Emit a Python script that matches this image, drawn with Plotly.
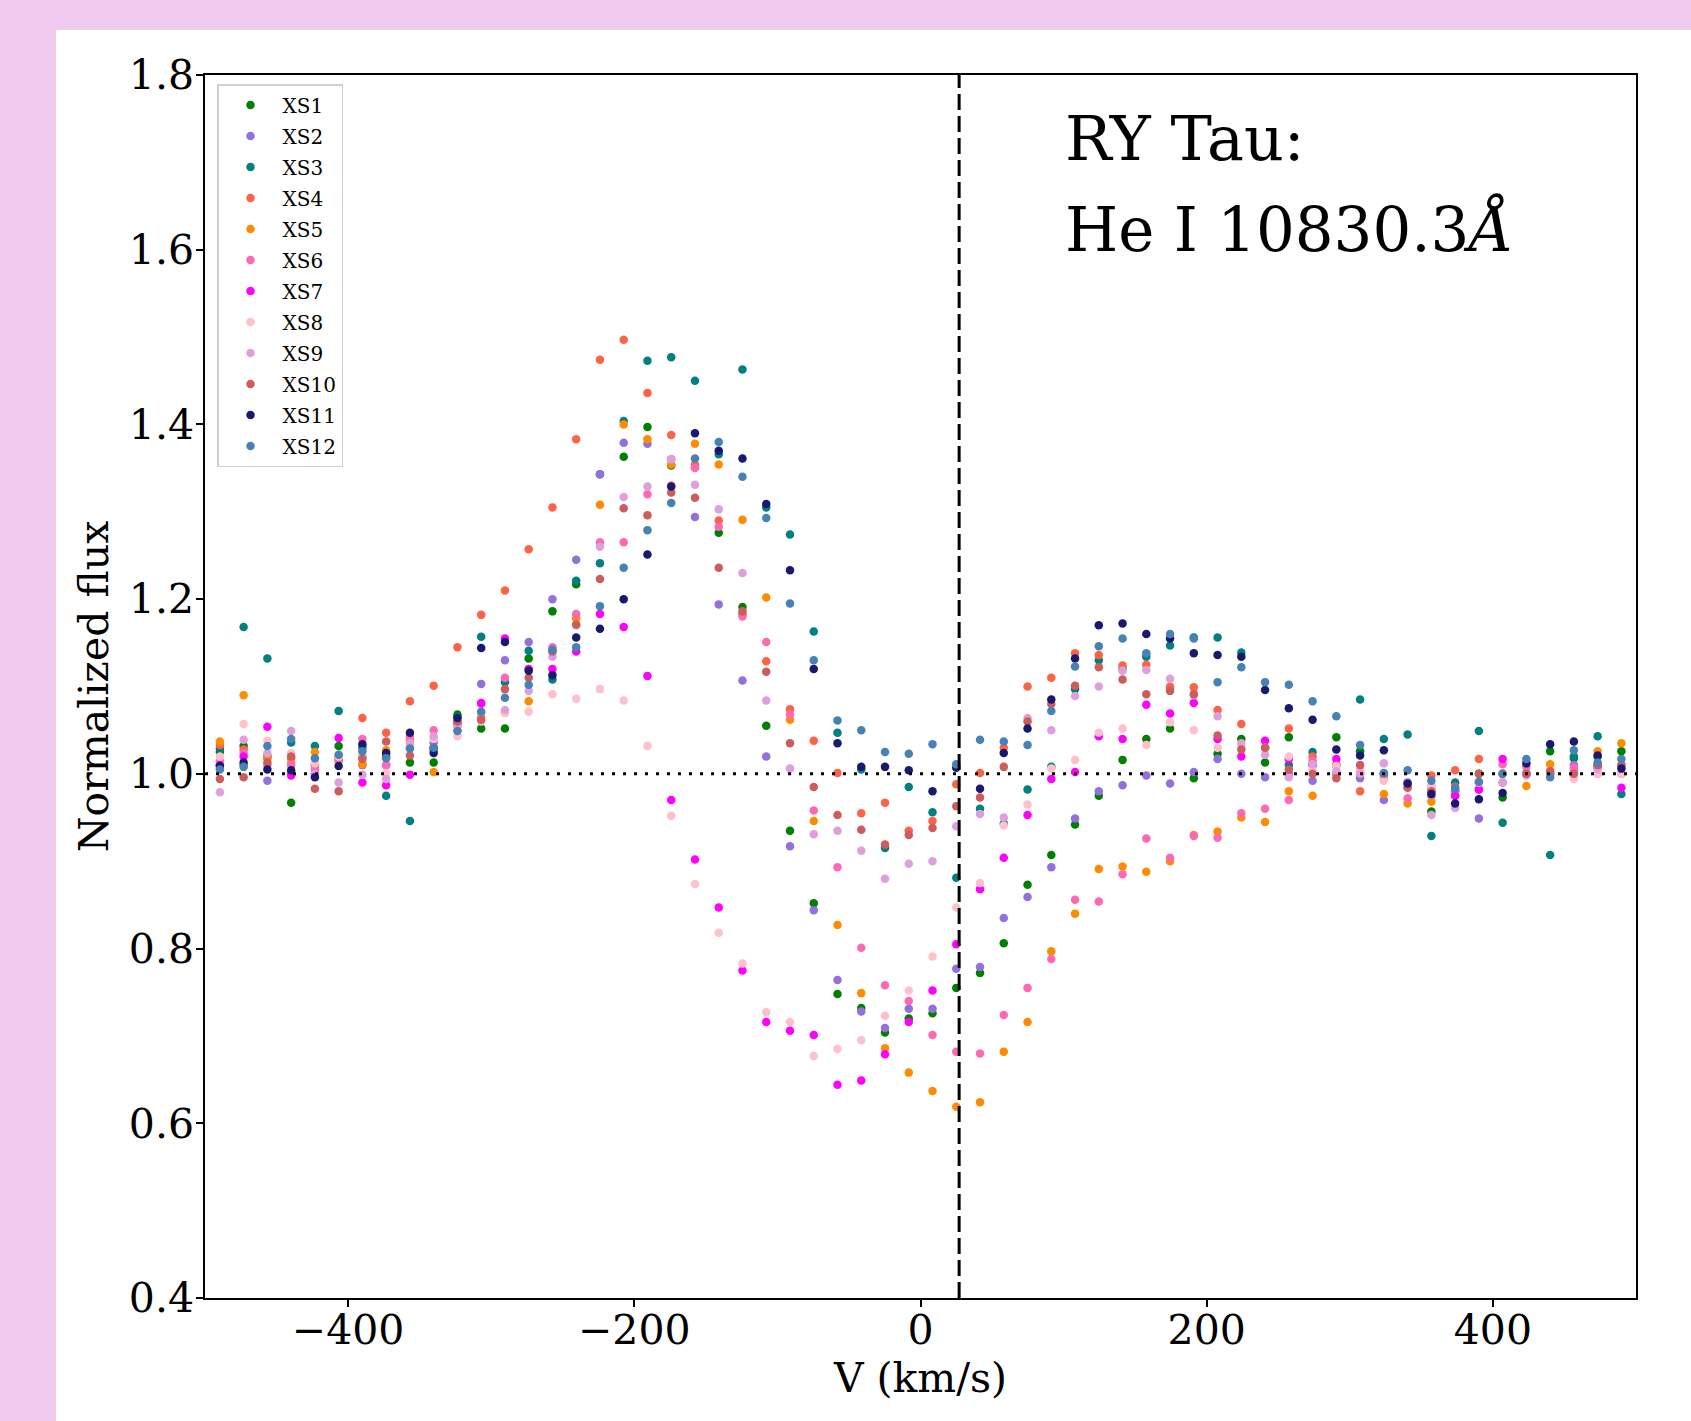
import plotly.graph_objects as go

# Velocity grid (km/s), shared by all series
velocity = [-489.6, -473.0, -456.4, -439.8, -423.2, -406.6, -390.0, -373.4, -356.8, -340.2,
            -323.6, -307.0, -290.4, -273.8, -257.2, -240.6, -224.0, -207.4, -190.8, -174.2,
            -157.6, -141.0, -124.4, -107.8, -91.2, -74.6, -58.0, -41.4, -24.8, -8.2,
            8.4, 25.0, 41.6, 58.2, 74.8, 91.4, 108.0, 124.6, 141.2, 157.8,
            174.4, 191.0, 207.6, 224.2, 240.8, 257.4, 274.0, 290.6, 307.2, 323.8,
            340.4, 357.0, 373.6, 390.2, 406.8, 423.4, 440.0, 456.6, 473.2, 489.8]

xs1 = [1.025, 1.032, 1.02, 0.967, 1.01, 1.032, 1.02, 1.02, 1.013, 1.013,
       1.068, 1.052, 1.052, 1.132, 1.186, 1.217, 1.343, 1.363, 1.397, 1.353,
       1.351, 1.276, 1.191, 1.055, 0.935, 0.852, 0.748, 0.732, 0.704, 0.72,
       0.726, 0.755, 0.772, 0.806, 0.873, 0.907, 0.942, 0.975, 1.016, 1.04,
       1.052, 0.995, 1.023, 1.04, 1.013, 1.042, 1.01, 1.042, 1.026, 1.0,
       0.99, 0.957, 0.975, 1.0, 0.973, 1.0, 1.026, 1.018, 1.02, 1.026]
xs2 = [1.01, 1.01, 0.992, 1.0, 1.0, 1.015, 1.01, 1.01, 1.03, 1.036,
       1.06, 1.103, 1.13, 1.151, 1.2, 1.245, 1.343, 1.379, 1.378, 1.36,
       1.294, 1.194, 1.107, 1.02, 0.917, 0.844, 0.764, 0.728, 0.709, 0.731,
       0.731, 0.777, 0.779, 0.835, 0.859, 0.893, 0.949, 0.98, 0.987, 0.998,
       0.989, 1.002, 1.017, 1.0, 0.996, 1.0, 0.992, 1.0, 0.995, 0.97,
       0.985, 0.975, 0.98, 0.949, 0.99, 1.0, 1.0, 1.01, 1.01, 1.0]
xs3 = [1.029, 1.168, 1.132, 1.036, 1.032, 1.072, 1.03, 0.975, 0.946, 1.028,
       1.065, 1.157, 1.105, 1.141, 1.108, 1.221, 1.241, 1.404, 1.473, 1.477,
       1.45, 1.366, 1.463, 1.305, 1.274, 1.163, 1.047, 1.005, 0.915, 0.985,
       0.956, 0.881, 0.96, 0.943, 0.982, 1.008, 1.097, 1.13, 1.12, 1.134,
       1.147, 1.156, 1.156, 1.139, 1.03, 1.01, 1.025, 1.01, 1.085, 1.04,
       1.045, 0.929, 0.99, 1.049, 0.944, 1.0, 0.907, 1.02, 1.043, 0.977]
xs4 = [1.033, 1.028, 1.018, 1.018, 1.01, 1.02, 1.064, 1.047, 1.083, 1.101,
       1.145, 1.182, 1.21, 1.257, 1.305, 1.383, 1.474, 1.497, 1.436, 1.388,
       1.354, 1.29, 1.183, 1.129, 1.074, 1.038, 1.001, 0.955, 0.967, 0.935,
       0.946, 0.988, 1.001, 1.03, 1.1, 1.11, 1.138, 1.136, 1.124, 1.125,
       1.1, 1.099, 1.073, 1.057, 1.03, 1.052, 1.02, 1.01, 0.98, 1.0,
       0.99, 0.998, 1.004, 1.017, 1.0, 1.0, 1.0, 1.005, 1.01, 1.01]
xs5 = [1.037, 1.09, 1.02, 1.012, 1.025, 1.015, 1.011, 1.027, 1.039, 1.002,
       1.05, 1.065, 1.07, 1.083, 1.14, 1.178, 1.308, 1.4, 1.383, 1.354,
       1.378, 1.354, 1.291, 1.202, 1.062, 0.946, 0.827, 0.749, 0.686, 0.658,
       0.637, 0.619, 0.624, 0.682, 0.716, 0.797, 0.84, 0.891, 0.894, 0.888,
       0.90, 0.93, 0.934, 0.95, 0.945, 0.98, 0.975, 1.0, 1.0, 0.977,
       0.966, 0.968, 0.98, 0.99, 1.0, 0.986, 1.011, 1.0, 1.026, 1.035]
xs6 = [1.015, 1.024, 1.01, 1.01, 1.005, 1.018, 1.04, 1.01, 1.043, 1.05,
       1.055, 1.08, 1.11, 1.12, 1.145, 1.183, 1.265, 1.265, 1.32, 1.33,
       1.35, 1.283, 1.18, 1.151, 1.068, 0.958, 0.893, 0.801, 0.758, 0.74,
       0.701, 0.682, 0.68, 0.724, 0.755, 0.788, 0.856, 0.854, 0.885, 0.926,
       0.904, 0.929, 0.927, 0.955, 0.96, 0.97, 1.015, 1.0, 1.003, 0.995,
       0.972, 0.986, 0.98, 0.982, 1.011, 1.008, 1.0, 1.007, 1.0, 1.0]
xs7 = [1.01, 1.02, 1.054, 0.998, 1.0, 1.041, 0.99, 0.987, 0.999, 1.03,
       1.058, 1.081, 1.155, 1.12, 1.12, 1.14, 1.183, 1.168, 1.112, 0.97,
       0.902, 0.847, 0.775, 0.716, 0.706, 0.701, 0.644, 0.649, 0.679, 0.716,
       0.752, 0.805, 0.868, 0.904, 0.953, 0.994, 1.002, 1.043, 1.04, 1.079,
       1.069, 1.081, 1.04, 1.02, 1.038, 1.017, 1.01, 1.017, 1.0, 1.0,
       0.99, 0.98, 0.975, 0.982, 1.017, 1.0, 1.0, 1.0, 1.007, 0.984]
xs8 = [1.02, 1.057, 1.038, 1.024, 1.012, 1.02, 1.02, 1.001, 1.03, 1.04,
       1.043, 1.06, 1.07, 1.071, 1.091, 1.086, 1.097, 1.084, 1.032, 0.952,
       0.874, 0.818, 0.783, 0.727, 0.716, 0.677, 0.685, 0.695, 0.723, 0.752,
       0.791, 0.847, 0.875, 0.941, 0.965, 1.006, 1.016, 1.047, 1.052, 1.033,
       1.059, 1.05, 1.03, 1.03, 1.03, 1.02, 1.005, 1.009, 1.003, 0.992,
       0.99, 0.985, 0.985, 0.99, 1.0, 1.0, 1.0, 0.994, 1.0, 1.0]
xs9 = [0.979, 1.039, 1.024, 1.049, 1.0, 0.99, 0.999, 0.994, 1.035, 1.043,
       1.055, 1.07, 1.073, 1.095, 1.134, 1.17, 1.26, 1.317, 1.329, 1.36,
       1.331, 1.303, 1.23, 1.084, 1.006, 0.931, 0.935, 0.912, 0.88, 0.897,
       0.9, 0.94, 0.954, 0.95, 1.064, 1.05, 1.089, 1.1, 1.118, 1.119,
       1.109, 1.09, 1.066, 1.035, 1.022, 0.996, 1.011, 1.003, 1.0, 1.012,
       0.99, 0.953, 0.961, 0.99, 0.99, 0.998, 1.0, 1.0, 1.005, 1.01]
xs10 = [0.994, 0.996, 1.013, 1.02, 0.983, 0.98, 1.017, 1.037, 1.021, 1.03,
        1.06, 1.062, 1.097, 1.11, 1.14, 1.171, 1.223, 1.304, 1.296, 1.322,
        1.316, 1.236, 1.186, 1.117, 1.035, 0.985, 0.953, 0.936, 0.919, 0.930,
        0.938, 0.963, 0.973, 1.008, 1.06, 1.08, 1.101, 1.122, 1.108, 1.091,
        1.095, 1.091, 1.044, 1.028, 1.03, 1.005, 1.0, 0.995, 1.01, 1.0,
        0.984, 0.98, 0.985, 1.0, 1.0, 1.0, 1.003, 1.0, 1.01, 1.01]
xs11 = [1.009, 1.013, 1.005, 1.004, 0.996, 1.009, 1.034, 1.024, 1.047, 1.024,
        1.064, 1.144, 1.151, 1.118, 1.113, 1.156, 1.166, 1.2, 1.251, 1.329,
        1.39, 1.37, 1.361, 1.309, 1.233, 1.12, 1.035, 1.008, 1.008, 1.004,
        0.98, 1.007, 0.983, 1.024, 1.052, 1.085, 1.132, 1.17, 1.172, 1.16,
        1.155, 1.138, 1.136, 1.134, 1.096, 1.075, 1.062, 1.028, 1.021, 1.027,
        0.989, 0.977, 0.966, 0.971, 0.978, 1.012, 1.034, 1.037, 1.021, 1.006]
xs12 = [1.005, 1.008, 1.032, 1.04, 1.018, 1.022, 1.026, 1.018, 1.029, 1.03,
        1.049, 1.071, 1.087, 1.102, 1.142, 1.145, 1.192, 1.236, 1.279, 1.31,
        1.361, 1.38, 1.34, 1.293, 1.195, 1.13, 1.061, 1.05, 1.025, 1.023,
        1.034, 1.011, 1.039, 1.037, 1.033, 1.072, 1.123, 1.146, 1.155, 1.138,
        1.16, 1.155, 1.105, 1.122, 1.105, 1.102, 1.083, 1.066, 1.033, 1.001,
        1.004, 0.992, 0.983, 0.991, 1.0, 1.017, 0.996, 1.027, 1.013, 1.017]

series_names = ["XS1", "XS2", "XS3", "XS4", "XS5", "XS6",
                "XS7", "XS8", "XS9", "XS10", "XS11", "XS12"]
series_values = [xs1, xs2, xs3, xs4, xs5, xs6, xs7, xs8, xs9, xs10, xs11, xs12]
series_colors = ["green", "mediumpurple", "teal", "tomato", "darkorange", "hotpink",
                 "magenta", "pink", "plum", "indianred", "midnightblue", "steelblue"]

x_ticks = [-400, -200, 0, 200, 400]
y_ticks = [0.4, 0.6, 0.8, 1.0, 1.2, 1.4, 1.6, 1.8]
line_velocity = 27.0
continuum = 1.0

FONT = "DejaVu Serif"

fig = go.Figure()
for name, vals, col in zip(series_names, series_values, series_colors):
    fig.add_trace(go.Scatter(
        x=velocity, y=vals, mode="markers", name=name, legendgroup=name,
        marker=dict(color=col, size=8.5, line=dict(width=0)),
    ))

# reference lines
fig.add_trace(go.Scatter(x=[-500, 500], y=[continuum, continuum], mode="lines",
                         line=dict(color="black", width=3, dash="3px,8px"),
                         showlegend=False, hoverinfo="skip"))
fig.add_trace(go.Scatter(x=[line_velocity, line_velocity], y=[0.4, 1.8], mode="lines",
                         line=dict(color="black", width=3, dash="16px,6px"),
                         showlegend=False, hoverinfo="skip"))

W, H = 1691, 1421
L, R, T, B = 205, 55, 75, 123
pw, ph = W - L - R, H - T - B

def px_to_paper_x(px):
    return (px - L) / pw

def px_to_paper_y(py):
    return (H - B - py) / ph

# white figure panel on lilac page
fig.add_shape(type="rect", xref="paper", yref="paper",
              x0=px_to_paper_x(56), x1=px_to_paper_x(W + 5),
              y0=px_to_paper_y(H + 5), y1=px_to_paper_y(30),
              fillcolor="white", line=dict(width=0), layer="below")

fig.add_annotation(text="RY Tau:", xref="paper", yref="paper",
                   x=px_to_paper_x(1063), y=px_to_paper_y(139),
                   xanchor="left", yanchor="middle", showarrow=False,
                   font=dict(family=FONT, size=62, color="black"))
fig.add_annotation(text="He I 10830.3<i>Å</i>", xref="paper", yref="paper",
                   x=px_to_paper_x(1063), y=px_to_paper_y(229),
                   xanchor="left", yanchor="middle", showarrow=False,
                   font=dict(family=FONT, size=61, color="black"))

axis_common = dict(showline=True, linecolor="black", linewidth=1.5, mirror=True,
                   ticks="outside", ticklen=7, tickwidth=1.5, tickcolor="black",
                   showgrid=False, zeroline=False,
                   tickfont=dict(family=FONT, size=41, color="black"))

fig.update_layout(
    width=W, height=H,
    margin=dict(l=L, r=R, t=T, b=B, autoexpand=False),
    paper_bgcolor="#F0CBEF", plot_bgcolor="white",
    xaxis=dict(range=[-500, 500], tickvals=x_ticks, ticklabelstandoff=-12,
               title=dict(text="V (km/s)", font=dict(family=FONT, size=41, color="black"),
                          standoff=0),
               **axis_common),
    yaxis=dict(range=[0.4, 1.8], tickvals=y_ticks, tickformat=".1f", ticklabelstandoff=-6,
               title=dict(text="Normalized flux", font=dict(family=FONT, size=41, color="black"),
                          standoff=7),
               **axis_common),
    legend=dict(x=px_to_paper_x(217), y=px_to_paper_y(84), xanchor="left", yanchor="top",
                bgcolor="rgba(255,255,255,0.9)", bordercolor="#d0d0d0", borderwidth=1.5,
                font=dict(family=FONT, size=20, color="black"),
                tracegroupgap=2, itemwidth=54),
    showlegend=True,
)

fig.write_html("out.html")
